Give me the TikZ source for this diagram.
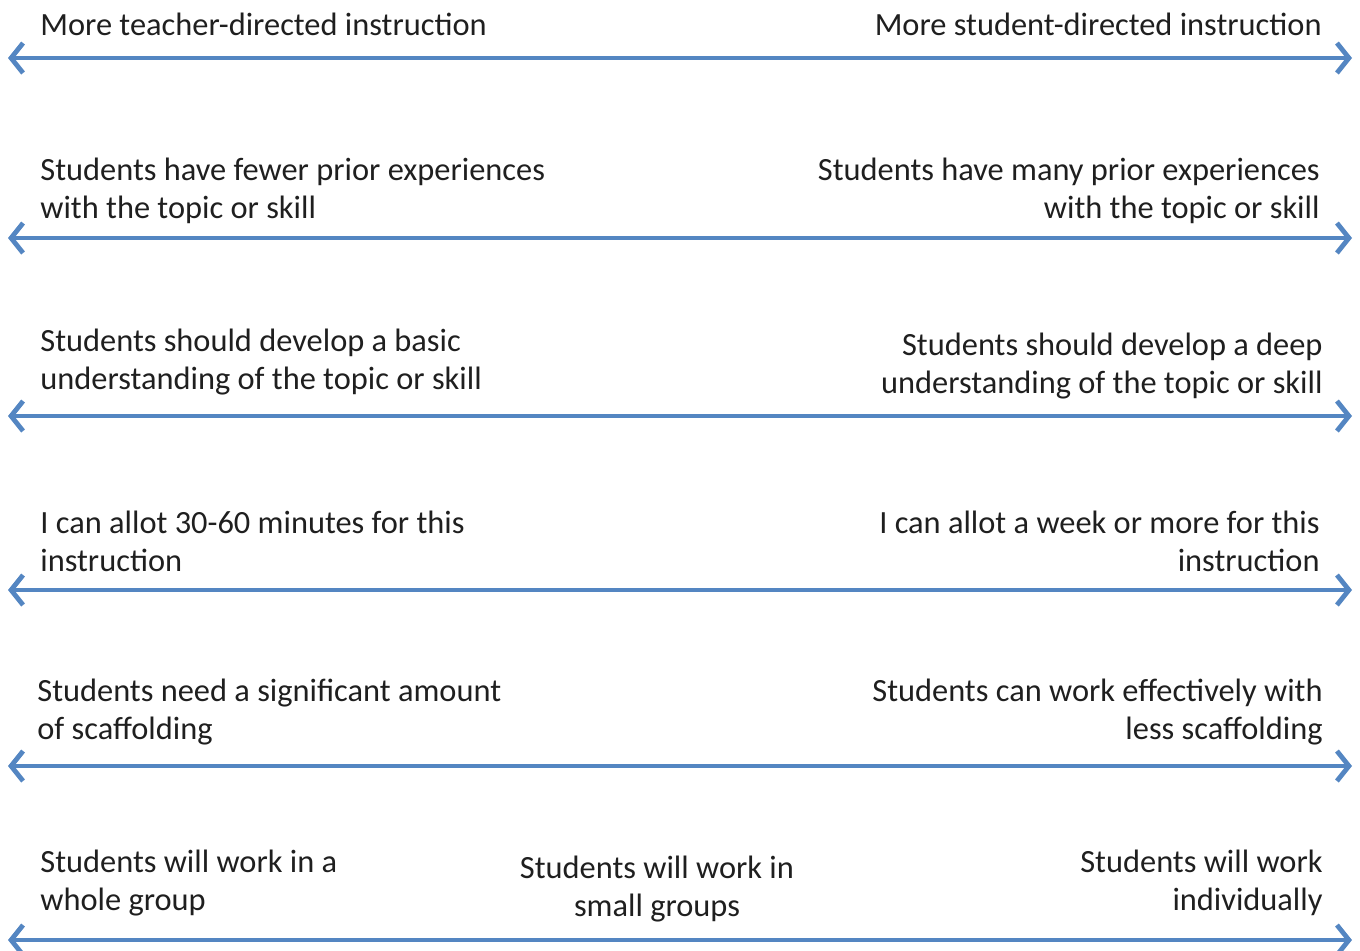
\documentclass[tikz,border=0pt]{standalone}
\usepackage{fontspec}
\setmainfont{Carlito}
\usetikzlibrary{arrows.meta}
\usetikzlibrary{calc, positioning}

\definecolor{scalebl}{RGB}{84,134,194}
\tikzset{
	lbl/.style   = {inner sep=0pt, align=left, anchor=west, text=black!88,
	                font=\fontsize{16.2}{19}\selectfont},
	rbl/.style   = {lbl, align=right, anchor=east},
	scale line/.style = {draw=scalebl, line width=2pt,
	                {Straight Barb[length=6pt,width=15pt,line width=2.4pt]}-{Straight Barb[length=6pt,width=15pt,line width=2.4pt]}}
}

\begin{document}
\begin{tikzpicture}[x=0.5pt, y=-0.5pt]
		\useasboundingbox (0,0) rectangle (1360,950);
		% the six scales
		\foreach \nm/\yy in {dir/58, prior/238, depth/416, time/590, scaf/766, group/940}{
			\coordinate (\nm W) at (8,\yy);
			\coordinate (\nm E) at (1352,\yy);
			\draw[scale line] (\nm W) -- (\nm E);
		}
		\node[lbl] (dirL)   at (40,  24) {More teacher-directed instruction};
		\node[rbl] (dirR)   at (1322,24) {More student-directed instruction};
		\node[lbl] (priorL) at (40,  191) {Students have fewer prior experiences\\with the topic or skill};
		\node[rbl] (priorR) at (1320,191) {Students have many prior experiences\\with the topic or skill};
		\node[lbl] (depthL) at (40,  362) {Students should develop a basic\\understanding of the topic or skill};
		\node[rbl] (depthR) at (1323,366) {Students should develop a deep\\understanding of the topic or skill};
		\node[lbl] (timeL)  at (40,  541) {I can allot 30-60 minutes for this\\instruction};
		\node[rbl] (timeR)  at (1320,541) {I can allot a week or more for this\\instruction};
		\node[lbl] (scafL)  at (37,  712) {Students need a significant amount\\of scaffolding};
		\node[rbl] (scafR)  at (1323,712) {Students can work effectively with\\less scaffolding};
		\node[lbl] (groupL) at (40,  883) {Students will work in a\\whole group};
		\node[lbl, align=center, anchor=center] (groupM) at (657,889) {Students will work in\\small groups};
		\node[rbl] (groupR) at (1323,883) {Students will work\\individually};
	\end{tikzpicture}
\end{document}
